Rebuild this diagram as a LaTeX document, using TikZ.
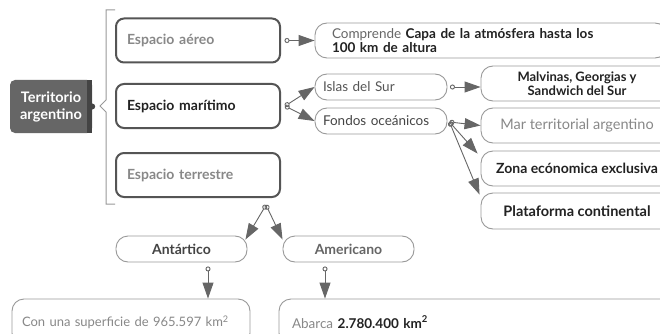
\documentclass[tikz,border=0pt]{standalone}
\usepackage{fontspec}
\setmainfont{Lato}
\usetikzlibrary{arrows.meta,calc}
\definecolor{c22}{HTML}{222222}
\definecolor{c44}{HTML}{444444}
\definecolor{c55}{HTML}{555555}
\definecolor{c66}{HTML}{666666}
\definecolor{c88}{HTML}{888888}
\definecolor{c99}{HTML}{999999}
\definecolor{cAA}{HTML}{AAAAAA}
\tikzset{
  mainbox/.style={draw=c55, line width=2pt, rounded corners=8pt, minimum width=164pt, minimum height=44pt,
    text width=142pt, inner xsep=11pt, align=left, font=\fontsize{14}{16}\selectfont},
  pill/.style={draw=c99, line width=0.9pt, rounded corners=12pt, inner sep=0pt},
  conn/.style={draw=c66, line width=0.9pt, {Circle[open,length=5pt,width=5pt]}-{Triangle[length=16pt,width=11pt]}},
}
\begin{document}
\begin{tikzpicture}[x=1pt,y=-1pt]
\useasboundingbox (0,0) rectangle (660,334);
\clip (0,0) rectangle (660,334);
\fill[white] (0,0) rectangle (660,334);

% root
\node[fill=c66, rounded corners=5pt, minimum width=82pt, minimum height=53pt, inner sep=0pt, align=center,
  text=white, font=\fontsize{14.5}{17}\selectfont\bfseries] (terr) at (51,106.5) {Territorio\\argentino};
\fill[c44] ($(terr.north east)+(-5,0)$) rectangle (terr.south east);
\fill[c44] (terr.east) circle (3pt);

% bracket
\draw[c99, line width=1pt] (115,10) -- (106,10) -- (106,100) -- (100,106) -- (106,112) -- (106,204) -- (115,204);

% main boxes
\node[mainbox, text=c88] (aereo) at (198,40.5) {\bfseries Espacio aéreo};
\node[mainbox, text=c22] (mar) at (198,106) {\bfseries Espacio marítimo};
\node[mainbox, text=c88] (terre) at (198,175) {\bfseries Espacio terrestre};

% level 2
\node[pill, minimum width=352pt, minimum height=35pt, text width=318pt, align=left,
  font=\fontsize{13.5}{14.5}\selectfont, text=c22] (comp) at (491,40.5)
  {{\color{c66}Comprende} \textbf{Capa de la atmósfera hasta los}\\\textbf{100 km de altura}};
\node[pill, minimum width=132pt, minimum height=26pt, text width=116pt, align=left,
  font=\fontsize{13.5}{15}\selectfont, text=c55] (islas) at (381,87) {Islas del Sur};
\node[pill, minimum width=132pt, minimum height=26pt, text width=116pt, align=left,
  font=\fontsize{13.5}{15}\selectfont, text=c44] (fondos) at (381,121) {Fondos oceánicos};

% level 3
\node[pill, minimum width=192pt, minimum height=35pt, align=center, font=\fontsize{13}{14}\selectfont\bfseries, text=c22]
  (malv) at (577,83.5) {Malvinas, Georgias y\\Sandwich del Sur};
\node[pill, minimum width=192pt, minimum height=35pt, align=center, font=\fontsize{14.5}{16}\selectfont, text=c88]
  (marterr) at (577,125.5) {Mar territorial argentino};
\node[pill, minimum width=192pt, minimum height=35pt, align=center, font=\fontsize{14}{16}\selectfont\bfseries, text=c22]
  (zona) at (577,168.5) {Zona ecónomica exclusiva};
\node[pill, minimum width=192pt, minimum height=36pt, align=center, font=\fontsize{14.5}{16}\selectfont\bfseries, text=c22]
  (plat) at (577,211) {Plataforma continental};

% terrestre branches
\node[pill, minimum width=131pt, minimum height=26pt, align=center, font=\fontsize{14}{15}\selectfont\bfseries, text=c44]
  (ant) at (181.5,249) {Antártico};
\node[pill, minimum width=131pt, minimum height=26pt, align=center, font=\fontsize{14}{15}\selectfont\bfseries, text=c66]
  (amer) at (348.5,249) {Americano};
\node[pill, minimum width=238pt, minimum height=46pt, text width=218pt, align=left, font=\fontsize{13}{15}\selectfont, text=c88]
  (sup) at (131,322) {Con una superficie de 965.597 km\textsuperscript{2}};
\node[pill, minimum width=393pt, minimum height=46pt, text width=367pt, align=left, font=\fontsize{13.5}{15}\selectfont, text=c22]
  (abar) at (475.5,322) {{\color{c88}Abarca} \textbf{2.780.400 km\textsuperscript{2}}};

% connectors
\draw[conn] ($(aereo.east)+(3.5,0)$) -- (aereo.east -| comp.west);
\coordinate (mdot) at ($(mar.east)+(4,0)$);
\draw[conn] (mdot) -- (islas.west);
\draw[conn] (mdot) -- (fondos.west);
\draw[conn] ($(islas.east)+(2.5,0)$) -- (islas.east -| malv.west);
\coordinate (fdot) at ($(fondos.east)+(2,1)$);
\draw[conn] (fdot) -- (marterr.west);
\draw[conn] (fdot) -- ($(zona.north west)+(-3,3)$);
\draw[conn] (fdot) -- ($(plat.north west)+(-1,2)$);
\coordinate (tdot) at ($(terre.south east)+(-15,7)$);
\draw[conn] (tdot) -- ($(ant.north east)+(-2,4)$);
\draw[conn] (tdot) -- ($(amer.north west)+(0,4)$);
\coordinate (adot) at ($(ant.south)+(26.5,4)$);
\draw[conn] (adot) -- (adot |- sup.north);
\coordinate (bdot) at ($(amer.south)+(-23.5,4)$);
\draw[conn] (bdot) -- (bdot |- abar.north);
\end{tikzpicture}
\end{document}
